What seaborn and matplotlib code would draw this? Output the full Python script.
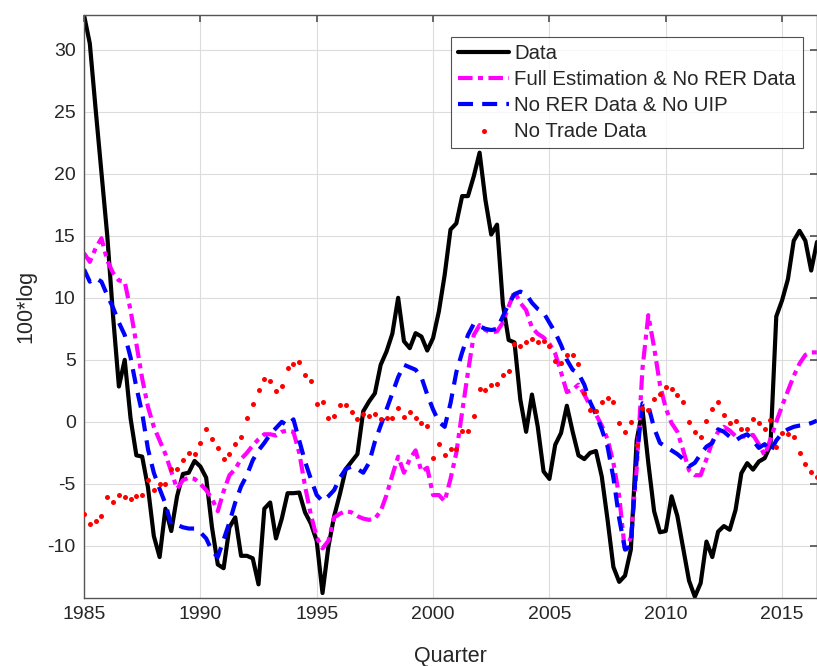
import numpy as np
import pandas as pd
import matplotlib
matplotlib.use("Agg")
import matplotlib.pyplot as plt
import seaborn as sns

# quarterly values, 1985Q1 .. 2016Q3
data_vals = [32.8, 30.5, 25.2, 20.1, 15.0, 8.5, 2.85, 5.0, 0.3, -2.7,
             -2.8, -5.3, -9.2, -10.9, -7.0, -8.8, -6.0, -4.2, -4.1, -3.15,
             -3.6, -4.5, -8.5, -11.5, -11.8, -8.5, -7.7, -10.8, -10.8, -11.0,
             -13.1, -7.0, -6.5, -9.4, -7.8, -5.75, -5.75, -5.7, -7.3, -8.2,
             -9.6, -13.8, -10.1, -7.6, -5.8, -3.8, -3.2, -2.6, 0.85, 1.64,
             2.3, 4.6, 5.67, 7.1, 10.0, 6.5, 5.94, 7.15, 6.88, 5.75,
             6.75, 8.9, 11.85, 15.5, 16.0, 18.2, 18.2, 19.8, 21.7, 17.9,
             15.1, 15.9, 9.5, 6.6, 6.4, 1.8, -0.8, 2.2, -0.4, -4.0,
             -4.6, -1.85, -0.9, 1.3, -0.8, -2.7, -3.0, -2.5, -2.35, -4.4,
             -7.9, -11.7, -12.9, -12.4, -10.3, -1.5, 1.0, -3.3, -7.2, -8.9,
             -8.8, -6.0, -7.6, -10.2, -12.8, -14.1, -13.0, -9.65, -10.9, -8.85,
             -8.4, -8.7, -7.1, -4.14, -3.33, -3.85, -3.2, -2.93, -1.9, 8.5,
             9.8, 11.5, 14.6, 15.4, 14.6, 12.2, 14.5]

full_est = [13.6, 12.9, 14.0, 14.8, 13.0, 12.0, 11.4, 11.3, 9.0, 6.3,
            3.5, 1.2, -0.4, -1.5, -2.6, -4.0, -5.4, -4.7, -4.5, -4.6,
            -5.0, -5.5, -6.2, -7.2, -5.6, -4.3, -3.8, -3.0, -2.5, -1.9,
            -1.4, -1.0, -1.0, -1.1, -0.8, -0.7, -0.8, -2.5, -5.2, -7.5,
            -9.3, -10.2, -9.6, -7.7, -7.4, -7.2, -7.3, -7.6, -7.8, -7.9,
            -7.8, -7.2, -5.9, -4.3, -2.8, -4.1, -3.0, -2.3, -4.0, -3.7,
            -5.9, -5.9, -6.4, -4.6, -2.5, 0.8, 4.0, 7.0, 7.8, 7.4,
            7.2, 7.3, 8.0, 9.3, 10.5, 9.6, 9.0, 7.6, 7.1, 6.8,
            6.3, 5.5, 4.0, 2.4, 2.6, 3.0, 2.2, 1.3, 0.6, -0.3,
            -1.4, -3.3, -6.0, -10.5, -9.3, -3.8, 4.3, 8.6, 6.0, 3.0,
            1.1, -0.1, -0.8, -2.3, -3.9, -4.3, -4.3, -3.0, -1.6, -0.8,
            -0.4, -0.7, -1.15, -1.2, -1.15, -1.05, -1.8, -2.7, -1.4, 0.0,
            1.3, 2.5, 3.7, 4.7, 5.4, 5.6, 5.6]

no_rer_uip = [12.3, 11.3, 11.6, 11.3, 10.2, 9.2, 8.0, 7.0, 5.2, 2.8,
              0.7, -2.2, -4.1, -5.4, -6.6, -8.3, -8.3, -8.5, -8.6, -8.6,
              -8.9, -9.4, -10.4, -10.9, -9.5, -8.1, -6.5, -5.2, -4.3, -3.1,
              -2.3, -1.7, -1.0, -0.5, 0.0, -0.3, 0.2, -1.5, -3.2, -4.6,
              -5.9, -6.4, -6.0, -5.5, -4.5, -3.8, -3.6, -3.8, -4.1, -3.3,
              -1.6, -0.3, 1.0, 2.3, 3.6, 4.6, 4.4, 4.2, 3.6, 2.2,
              1.0, 0.0, -0.4, 1.5, 4.0, 5.6, 7.0, 7.9, 7.7, 7.5,
              7.4, 7.5, 8.5, 9.5, 10.3, 10.5, 10.3, 9.6, 9.1, 8.8,
              8.0, 7.2, 6.2, 5.0, 4.2, 3.9, 3.0, 1.6, 0.6, -0.6,
              -2.0, -4.5, -7.8, -10.3, -10.0, -3.0, 1.5, 1.3, -0.5, -1.7,
              -2.0, -2.3, -2.6, -3.0, -3.6, -3.3, -2.6, -2.0, -1.7, -0.6,
              -0.8, -1.2, -1.5, -1.2, -1.0, -1.5, -2.1, -1.8, -2.4, -1.5,
              -0.9, -0.6, -0.4, -0.3, -0.25, -0.1, 0.1]

no_trade = [-7.44, -8.25, -7.96, -7.58, -6.02, -6.48, -5.89, -6.05, -6.18, -5.94,
            -5.91, -4.68, -5.51, -4.97, -4.97, -3.82, -3.77, -3.04, -2.53, -2.58,
            -1.67, -0.56, -1.40, -2.12, -2.96, -2.58, -1.77, -1.26, 0.35, 1.40,
            2.53, 3.44, 3.31, 2.50, 2.88, 4.33, 4.65, 4.81, 3.76, 3.31,
            1.48, 1.59, 0.35, 0.48, 1.32, 1.32, 0.83, 0.24, 0.65, 0.51,
            0.65, 0.24, 0.30, 0.30, 1.10, 0.43, 0.83, 0.30, -0.11, -0.32,
            -2.9, -1.77, -2.66, -2.18, -2.18, -0.75, -0.75, 0.45, 2.68, 2.60,
            2.95, 3.06, 3.80, 4.14, 6.30, 6.15, 6.45, 6.68, 6.42, 6.55,
            6.10, 4.87, 4.73, 5.38, 5.38, 4.70, 2.31, 0.94, 0.91, 1.61,
            1.91, 1.61, -0.06, -0.80, 0.0, -1.83, 1.13, 0.94, 1.85, 2.27,
            2.80, 2.67, 2.14, 1.57, 0.0, -0.81, -1.24, 0.03, 1.0, 1.64,
            0.56, -0.13, 0.03, -0.56, -0.56, 0.25, -0.11, -0.6, 0.19, -2.04,
            -0.9, -1.0, -1.2, -2.53, -3.39, -4.06, -4.41]

quarters = 1985 + np.arange(len(data_vals)) / 4

df = pd.DataFrame({
    "quarter": quarters,
    "Data": data_vals,
    "Full Estimation & No RER Data": full_est,
    "No RER Data & No UIP": no_rer_uip,
    "No Trade Data": no_trade,
})

sns.set_theme(style="white")
plt.rcParams["font.family"] = ["Liberation Sans", "DejaVu Sans"]
plt.rcParams["axes.unicode_minus"] = False

fig = plt.figure(figsize=(8.17, 6.66), dpi=100)
ax = fig.add_axes([84 / 817, 68 / 666, 733 / 817, 583 / 666])

sns.lineplot(data=df, x="quarter", y="Data", color="black", linewidth=3,
             label="Data", ax=ax)
sns.lineplot(data=df, x="quarter", y="Full Estimation & No RER Data",
             color="magenta", linewidth=3, linestyle=(0, (3.5, 1.3, 1.2, 1.3)),
             label="Full Estimation & No RER Data", ax=ax)
sns.lineplot(data=df, x="quarter", y="No RER Data & No UIP", color="blue",
             linewidth=3, linestyle=(0, (3.6, 2.2)),
             label="No RER Data & No UIP", ax=ax)
sns.scatterplot(data=df, x="quarter", y="No Trade Data", color="red", s=13,
                linewidth=0, label="No Trade Data", ax=ax, zorder=3)

ax.set_xlim(1985, 2016.5)
ax.set_ylim(-14.2, 32.8)
ax.set_xticks(range(1985, 2016, 5))
ax.set_yticks(range(-10, 31, 5))
ax.grid(True, color="#dcdcdc", linewidth=0.8)
ax.set_axisbelow(True)
for sp in ax.spines.values():
    sp.set_color("#555555")
    sp.set_linewidth(1.0)
ax.tick_params(direction="in", length=5, top=True, right=True,
               labelsize=14, labelcolor="#262626", color="#555555", pad=6)

ax.set_xlabel("Quarter", fontsize=15.5, color="#262626", labelpad=16)
ax.set_ylabel("100*log", fontsize=15.5, color="#262626", labelpad=8)

leg = ax.legend(loc="upper right", bbox_to_anchor=(0.981, 0.962),
                borderaxespad=0, fontsize=14.7, frameon=True, fancybox=False,
                edgecolor="#262626", handlelength=2.5, handletextpad=0.25,
                labelspacing=0.33, borderpad=0.35)
leg.get_frame().set_linewidth(0.8)

fig.savefig("out.png", dpi=100)
